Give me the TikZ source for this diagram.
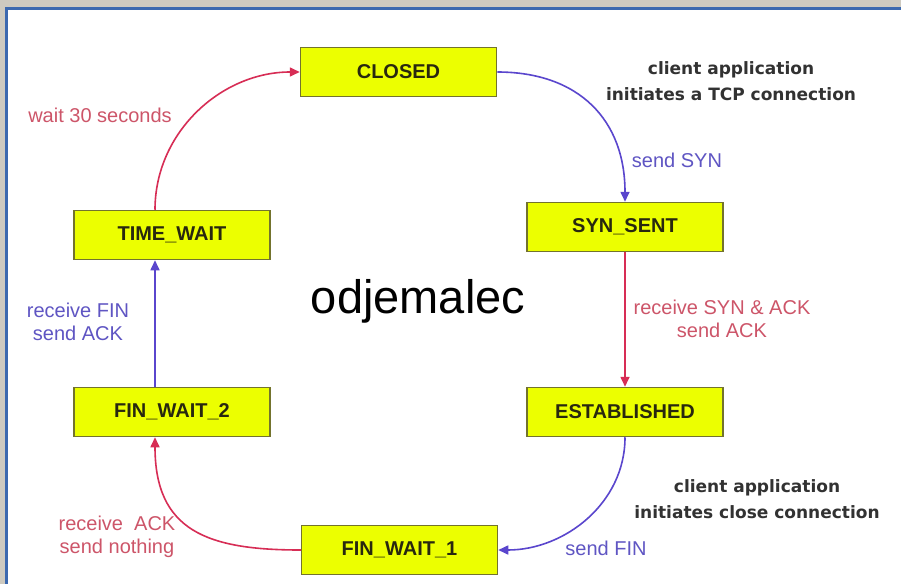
\documentclass[tikz,border=0pt]{standalone}
\usepackage{fontspec}
\setmainfont{Liberation Sans}
\newfontfamily\notefont{DejaVu Sans}
\usetikzlibrary{arrows.meta}

\definecolor{statefill}{RGB}{236,255,0}
\definecolor{stateedge}{RGB}{115,115,45}
\definecolor{statetext}{RGB}{40,40,15}
\definecolor{redline}{RGB}{215,45,85}
\definecolor{blueline}{RGB}{90,70,205}
\definecolor{redtext}{RGB}{205,85,105}
\definecolor{bluetext}{RGB}{95,85,195}
\definecolor{notetext}{RGB}{50,50,50}
\definecolor{frameblue}{RGB}{60,105,175}
\definecolor{paper}{RGB}{206,202,192}

\begin{document}
\begin{tikzpicture}[x=1pt,y=-1pt,
  state/.style={draw=stateedge, line width=1.5pt, fill=statefill,
    minimum width=196pt, minimum height=49pt, inner sep=0pt,
    font=\fontsize{20}{24}\selectfont\bfseries, text=statetext},
  redarrow/.style={draw=redline, line width=1.6pt,
    -{Triangle[length=10pt,width=9pt]}},
  bluearrow/.style={draw=blueline, line width=1.6pt,
    -{Triangle[length=10pt,width=9pt]}},
  lbl/.style={font=\fontsize{20}{23}\selectfont, align=center, inner sep=0pt, anchor=base},
  note/.style={font=\notefont\bfseries\fontsize{17}{25.5}\selectfont,
    align=center, text=notetext, inner sep=0pt, anchor=base}]

% page, frame and white drawing area
\useasboundingbox (0,0) rectangle (901,583);
\fill[white] (0,0) rectangle (910,590);
\fill[paper] (0,0) rectangle (910,8);
\fill[paper] (0,0) rectangle (6,590);
\draw[frameblue, line width=3pt] (6.5,590) -- (6.5,8.5) -- (910,8.5);

% states
\node[state] (closed)  at (398.5,72) {CLOSED};
\node[state] (synsent) at (625,227)  {SYN\_SENT};
\node[state] (estab)   at (625,412)  {ESTABLISHED};
\node[state] (fw1)     at (399.5,550) {FIN\_WAIT\_1};
\node[state] (fw2)     at (172,412)  {FIN\_WAIT\_2};
\node[state] (tw)      at (172,235)  {TIME\_WAIT};

% transitions
\draw[bluearrow] (closed.east) to[out=0,in=90,looseness=1.15] (synsent.north);
\draw[redarrow]  (synsent.south) -- (estab.north);
\draw[bluearrow] (estab.south) to[out=-90,in=0] (fw1.east);
\draw[redarrow]  (fw1.west) to[out=180,in=-90,looseness=1.3] ([xshift=-17pt]fw2.south);
\draw[bluearrow] ([xshift=-17pt]fw2.north) -- ([xshift=-17pt]tw.south);
\draw[redarrow]  ([xshift=-17pt]tw.north) to[out=90,in=180] (closed.west);

% transition labels (base = baseline of the last line)
\node[lbl, text=bluetext] (lsyn)  at (677,167) {send SYN};
\node[lbl, text=redtext]  (lack)  at (722,337) {receive SYN \& ACK\\send ACK};
\node[lbl, text=bluetext] (lfin)  at (606,555) {send FIN};
\node[lbl, text=redtext]  (lnone) at (117,553) {receive~ ACK\\send nothing};
\node[lbl, text=bluetext] (lfin2) at (78,340)  {receive FIN\\send ACK};
\node[lbl, text=redtext]  (lwait) at (100,122) {wait 30 seconds};

% notes
\node[note] (nopen)  at (731,100) {client application\\initiates a TCP connection};
\node[note] (nclose) at (757,518) {client application\\initiates close connection};

% title
\node[font=\fontsize{47}{50}\selectfont, anchor=base, inner sep=0pt] (title) at (418,313) {odjemalec};
\end{tikzpicture}
\end{document}
